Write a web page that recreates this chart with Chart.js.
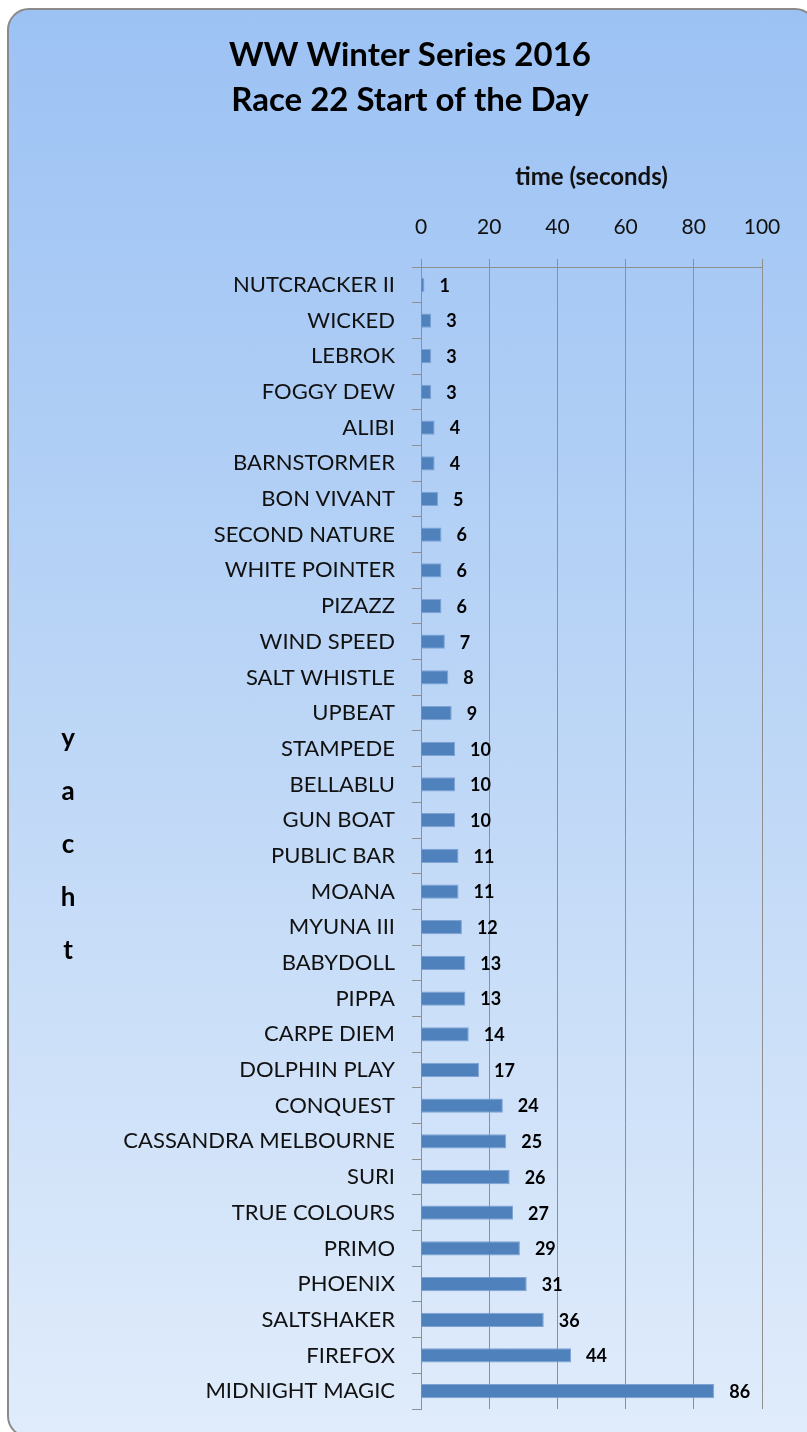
<!DOCTYPE html>
<html>
<head>
<meta charset="utf-8">
<script src="https://cdn.jsdelivr.net/npm/chart.js@4"></script>
<style>
  html, body { margin: 0; padding: 0; background: #fff; overflow: hidden; }
  #box {
    position: absolute; left: 7px; top: 8px;
    width: 806px; height: 1426px;
    border: 2px solid #8a8a8a; border-radius: 22px;
    background: linear-gradient(to bottom, #9cc2f4 0%, #b9d4f6 45%, #e0ecfb 100%);
    overflow: hidden;
  }
  #chartRace { display: block; }
</style>
</head>
<body>
<div id="box"><canvas id="chartRace" width="806" height="1426"></canvas></div>
<script>
// data
const yachts = ['NUTCRACKER II', 'WICKED', 'LEBROK', 'FOGGY DEW', 'ALIBI', 'BARNSTORMER',
  'BON VIVANT', 'SECOND NATURE', 'WHITE POINTER', 'PIZAZZ', 'WIND SPEED', 'SALT WHISTLE',
  'UPBEAT', 'STAMPEDE', 'BELLABLU', 'GUN BOAT', 'PUBLIC BAR', 'MOANA', 'MYUNA III',
  'BABYDOLL', 'PIPPA', 'CARPE DIEM', 'DOLPHIN PLAY', 'CONQUEST', 'CASSANDRA MELBOURNE',
  'SURI', 'TRUE COLOURS', 'PRIMO', 'PHOENIX', 'SALTSHAKER', 'FIREFOX', 'MIDNIGHT MAGIC'];
const startTimes = [1, 3, 3, 3, 4, 4, 5, 6, 6, 6, 7, 8, 9, 10, 10, 10, 11, 11, 12, 13, 13, 14,
  17, 24, 25, 26, 27, 29, 31, 36, 44, 86];
const titleLines = ['WW Winter Series 2016', 'Race 22 Start of the Day'];
const xTitle = 'time (seconds)';
const yTitle = 'yacht';

// value labels next to each bar
const barLabels = {
  id: 'barLabels',
  afterDatasetsDraw(chart) {
    const ctx = chart.ctx;
    const meta = chart.getDatasetMeta(0);
    ctx.save();
    ctx.font = 'bold 18px Lato';
    ctx.fillStyle = '#000';
    ctx.textAlign = 'left';
    ctx.textBaseline = 'middle';
    meta.data.forEach((bar, i) => {
      ctx.fillText(String(startTimes[i]), bar.x + 15, bar.y + 1);
    });
    ctx.restore();
  }
};

// chart title centred on the whole box, plus stacked letters for the y axis title
const boxTitles = {
  id: 'boxTitles',
  afterDraw(chart) {
    const ctx = chart.ctx;
    const area = chart.chartArea;
    ctx.save();
    ctx.fillStyle = '#000';
    ctx.textAlign = 'center';
    ctx.textBaseline = 'middle';

    ctx.font = 'bold 33px Lato';
    titleLines.forEach((line, i) => {
      ctx.fillText(line, 401, 45 + i * 45);
    });

    const mid = (area.top + area.bottom) / 2 + 7;
    const step = 53;
    ctx.font = 'bold 26px Lato';
    yTitle.split('').forEach((ch, i) => {
      ctx.fillText(ch, 59, mid + (i - (yTitle.length - 1) / 2) * step);
    });
    ctx.restore();
  }
};

const ctx_race = document.getElementById('chartRace');

new Chart(ctx_race, {
  type: 'bar',
  data: {
    labels: yachts,
    datasets: [{
      label: 'time',
      data: startTimes,
      backgroundColor: '#4f81bd',
      borderColor: '#7ea3d3',
      borderWidth: 1,
      categoryPercentage: 1,
      barPercentage: 0.4
    }]
  },
  options: {
    indexAxis: 'y',
    responsive: false,
    animation: false,
    layout: {
      padding: { left: 0, right: 53, top: 133, bottom: 27 }
    },
    scales: {
      x: {
        position: 'top',
        min: 0,
        max: 100,
        ticks: {
          stepSize: 20,
          color: '#111',
          padding: 19,
          font: { family: 'Lato', size: 21 }
        },
        grid: {
          color: '#8f8f8f',
          tickLength: 8
        },
        border: { color: '#8f8f8f' },
        title: {
          display: true,
          text: xTitle,
          color: '#111',
          font: { family: 'Lato', size: 24, weight: 'bold' },
          padding: { top: 20, bottom: 0 }
        },
        afterFit(scale) {
          scale.height = 124;
        }
      },
      y: {
        ticks: {
          color: '#111',
          padding: 17,
          autoSkip: false,
          font: { family: 'Lato', size: 22 }
        },
        grid: {
          color: '#8f8f8f',
          drawOnChartArea: false,
          tickLength: 9
        },
        border: { color: '#8f8f8f' },
        afterFit(scale) {
          scale.width = 412;
          scale.paddingTop = 0;
          scale.paddingBottom = 0;
        }
      }
    },
    plugins: {
      legend: { display: false },
      tooltip: { enabled: false },
      title: { display: false }
    }
  },
  plugins: [barLabels, boxTitles]
});
</script>
</body>
</html>
